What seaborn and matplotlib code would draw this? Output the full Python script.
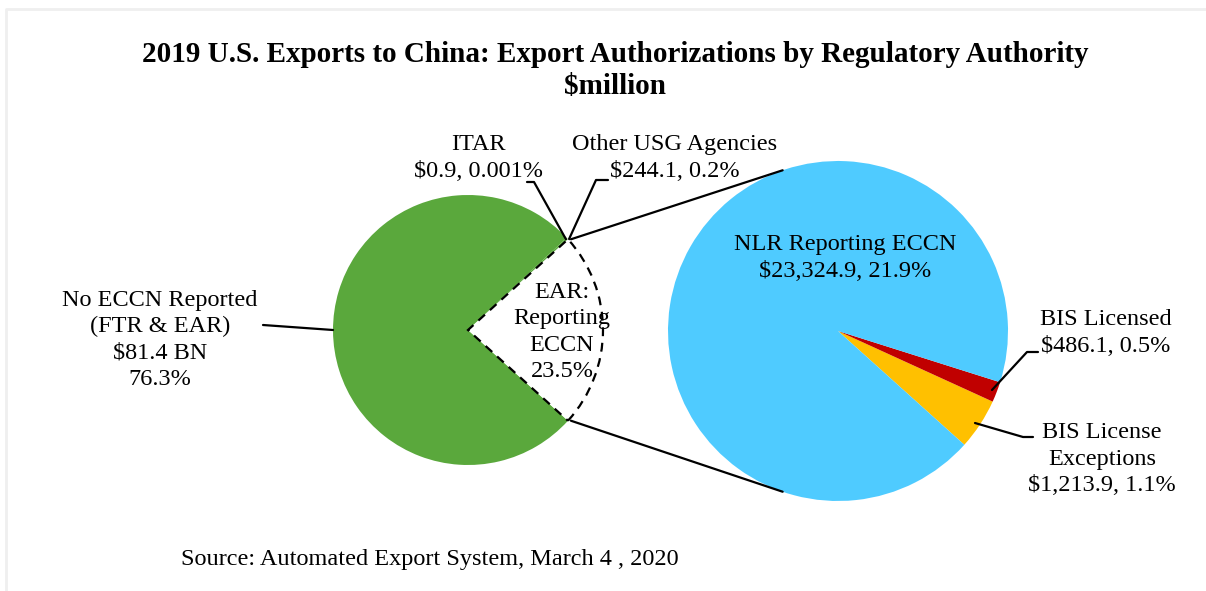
import numpy as np
import matplotlib
matplotlib.use("Agg")
import matplotlib.pyplot as plt
import seaborn as sns

sns.set_theme(style="white")
plt.rcParams['font.family'] = ['Liberation Serif', 'DejaVu Serif']
plt.rcParams['text.color'] = 'black'

# --- data ($million) ---
main_labels = ['EAR: Reporting ECCN', 'ITAR', 'Other USG Agencies', 'No ECCN Reported']
main_values = [25024.9, 0.9, 244.1, 81400.0]
main_colors = ['white', '#5aa83c', '#5aa83c', '#5aa83c']

sub_labels = ['BIS License Exceptions', 'BIS Licensed', 'NLR Reporting ECCN']
sub_values = [1213.9, 486.1, 23324.9]
sub_colors = ['#ffc000', '#c00000', '#4fcbff']

W, H = 1206, 591
fig = plt.figure(figsize=(W / 100, H / 100), dpi=100)
ax = fig.add_axes([0, 0, 1, 1])

def py(y):
    # pixel row -> data y
    return H - y

# left pie
c1, r1 = (468, py(330)), 135
total = sum(main_values)
ear_ang = main_values[0] / total * 360
w1, _ = ax.pie(main_values, colors=main_colors, center=c1, radius=r1,
               startangle=-ear_ang / 2, counterclock=True,
               wedgeprops=dict(linewidth=0))
w1[0].set_edgecolor('black')
w1[0].set_linestyle((0, (4, 3)))
w1[0].set_linewidth(1.6)
w1[0].set_zorder(3)

# right pie
c2, r2 = (838, py(331)), 170
ax.pie(sub_values, colors=sub_colors, center=c2, radius=r2,
       startangle=-42, counterclock=True, wedgeprops=dict(linewidth=0))

# pie() resets the limits, so set them afterwards
ax.set_xlim(0, W)
ax.set_ylim(0, H)
ax.set_aspect('equal')
ax.axis('off')

# screenshot frame
ax.plot([6, 6, W], [0, py(9), py(9)], color='#efefef', lw=2, solid_capstyle='butt')

# connector lines
a = np.deg2rad(ear_ang / 2)
p_top = (c1[0] + r1 * np.cos(a), c1[1] + r1 * np.sin(a))
p_bot = (c1[0] + r1 * np.cos(-a), c1[1] + r1 * np.sin(-a))
b = np.deg2rad(109)
q_top = (c2[0] + r2 * np.cos(b), c2[1] + r2 * np.sin(b))
q_bot = (c2[0] + r2 * np.cos(-b), c2[1] + r2 * np.sin(-b))
ax.plot([p_top[0] + 3, q_top[0]], [p_top[1], q_top[1]], color='black', lw=1.6)
ax.plot([p_bot[0] + 3, q_bot[0]], [p_bot[1], q_bot[1]], color='black', lw=1.6)

fs = 17.5
ls = 1.34
# title
ax.text(615, py(54), '2019 U.S. Exports to China: Export Authorizations by Regulatory Authority',
        ha='center', va='center', fontsize=21, fontweight='bold')
ax.text(615, py(87), '$million', ha='center', va='center', fontsize=21, fontweight='bold')

# left labels
ax.text(160, py(340), 'No ECCN Reported\n(FTR & EAR)\n$81.4 BN\n76.3%', ha='center',
        va='center', fontsize=fs, linespacing=ls)
ax.plot([263, c1[0] - r1], [py(325), py(330)], color='black', lw=1.6)

ax.text(478, py(158), 'ITAR\n$0.9, 0.001%', ha='center', va='center', fontsize=fs,
        linespacing=ls)
ax.plot([527, 534, p_top[0] - 2], [py(182), py(182), p_top[1]], color='black', lw=1.6)

ax.text(675, py(158), 'Other USG Agencies\n$244.1, 0.2%', ha='center', va='center',
        fontsize=fs, linespacing=ls)
ax.plot([608, 596, p_top[0] + 1], [py(180), py(180), p_top[1]], color='black', lw=1.6)

ax.text(562, py(332), 'EAR:\nReporting\nECCN\n23.5%', ha='center', va='center',
        fontsize=fs, linespacing=ls, zorder=4)

# right labels
ax.text(845, py(258), 'NLR Reporting ECCN\n$23,324.9, 21.9%', ha='center', va='center',
        fontsize=fs, linespacing=ls)
ax.text(1106, py(333), 'BIS Licensed\n$486.1, 0.5%', ha='center', va='center',
        fontsize=fs, linespacing=ls)
ax.plot([1038, 1027, 992], [py(352), py(352), py(390)], color='black', lw=1.6)
ax.text(1102, py(459), 'BIS License\nExceptions\n$1,213.9, 1.1%', ha='center', va='center',
        fontsize=fs, linespacing=ls)
ax.plot([975, 1023, 1033], [py(423), py(437), py(437)], color='black', lw=1.6)

# source
ax.text(181, py(560), 'Source: Automated Export System, March 4 , 2020', ha='left',
        va='center', fontsize=fs)

fig.savefig('out.png', dpi=100)
